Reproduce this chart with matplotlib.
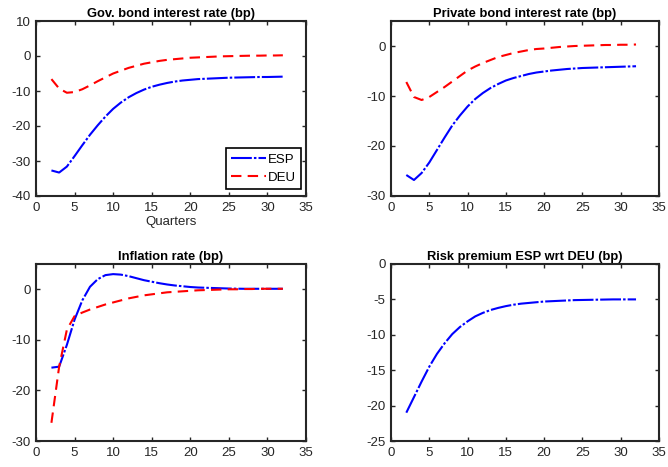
import matplotlib
matplotlib.use("Agg")
import matplotlib.pyplot as plt

plt.rcParams['font.family'] = ['Liberation Sans', 'DejaVu Sans']
plt.rcParams['font.size'] = 9
plt.rcParams['axes.unicode_minus'] = False

quarters = list(range(2, 33))

gov_esp = [-32.7, -33.3, -31.6, -28.6, -25.5, -22.5, -19.8, -17.3, -15.1, -13.3, -11.8,
           -10.6, -9.6, -8.8, -8.2, -7.7, -7.3, -7.0, -6.8, -6.6, -6.5, -6.4, -6.3, -6.2,
           -6.15, -6.1, -6.05, -6.0, -6.0, -5.95, -5.9]
gov_deu = [-6.6, -9.3, -10.5, -10.3, -9.5, -8.4, -7.2, -6.1, -5.0, -4.2, -3.4, -2.8, -2.2,
           -1.8, -1.4, -1.1, -0.9, -0.7, -0.5, -0.4, -0.3, -0.2, -0.1, -0.05, 0.0, 0.05,
           0.1, 0.1, 0.15, 0.15, 0.2]

priv_esp = [-25.8, -26.8, -25.4, -23.3, -20.8, -18.3, -15.9, -13.9, -12.1, -10.6, -9.4,
            -8.4, -7.6, -6.9, -6.4, -6.0, -5.6, -5.3, -5.1, -4.9, -4.75, -4.6, -4.5, -4.4,
            -4.35, -4.3, -4.25, -4.2, -4.15, -4.1, -4.05]
priv_deu = [-7.2, -10.2, -10.8, -10.2, -9.2, -8.2, -7.1, -6.0, -4.9, -4.1, -3.4, -2.8,
            -2.2, -1.8, -1.4, -1.1, -0.8, -0.6, -0.5, -0.35, -0.2, -0.1, 0.0, 0.05, 0.1,
            0.15, 0.2, 0.2, 0.25, 0.25, 0.3]

infl_esp = [-15.5, -15.3, -11.0, -6.0, -2.2, 0.5, 2.0, 2.8, 3.0, 2.9, 2.6, 2.2, 1.8, 1.5,
            1.2, 0.95, 0.75, 0.6, 0.45, 0.35, 0.3, 0.25, 0.2, 0.15, 0.12, 0.1, 0.1, 0.1,
            0.1, 0.1, 0.1]
infl_deu = [-26.4, -15.3, -8.0, -5.3, -4.6, -4.0, -3.5, -3.0, -2.6, -2.2, -1.8, -1.5,
            -1.2, -1.0, -0.8, -0.6, -0.5, -0.4, -0.3, -0.2, -0.15, -0.1, -0.05, 0.0, 0.0,
            0.05, 0.05, 0.1, 0.1, 0.1, 0.1]

risk_esp = [-21.0, -18.8, -16.6, -14.5, -12.7, -11.2, -9.9, -8.9, -8.1, -7.4, -6.9, -6.5,
            -6.2, -5.95, -5.75, -5.6, -5.5, -5.4, -5.3, -5.25, -5.2, -5.15, -5.1, -5.08,
            -5.06, -5.04, -5.02, -5.0, -5.0, -5.0, -5.0]

esp_style = dict(color='#0000ff', linestyle=(0, (10, 1, 1.2, 1)), linewidth=1.5)
deu_style = dict(color='#ff0000', linestyle=(0, (5, 3)), linewidth=1.5)

fig = plt.figure(figsize=(6.68, 4.67), dpi=100)

# axes boxes in pixel positions of the reference
W, H = 668, 467
boxes = [(36, 21, 306, 196), (391, 21, 659, 196), (36, 264, 306, 441), (391, 264, 659, 441)]
axes = [fig.add_axes([l / W, 1 - b / H, (r - l) / W, (b - t) / H]) for l, t, r, b in boxes]

titles = ['Gov. bond interest rate (bp)', 'Private bond interest rate (bp)',
          'Inflation rate (bp)', 'Risk premium ESP wrt DEU (bp)']
ylims = [(-40, 10), (-30, 5), (-30, 5), (-25, 0)]
yticks = [range(-40, 11, 10), range(-30, 1, 10), range(-30, 1, 10), range(-25, 1, 5)]

axes[0].plot(quarters, gov_esp, label='ESP', **esp_style)
axes[0].plot(quarters, gov_deu, label='DEU', **deu_style)
axes[1].plot(quarters, priv_esp, **esp_style)
axes[1].plot(quarters, priv_deu, **deu_style)
axes[2].plot(quarters, infl_esp, **esp_style)
axes[2].plot(quarters, infl_deu, **deu_style)
axes[3].plot(quarters, risk_esp, **esp_style)

for ax, title, yl, yt in zip(axes, titles, ylims, yticks):
    ax.set_xlim(0, 35)
    ax.set_ylim(*yl)
    ax.set_xticks(range(0, 36, 5))
    ax.set_yticks(list(yt))
    ax.set_title(title, fontweight='bold', fontsize=9.3, pad=3, color='black')
    ax.tick_params(direction='in', top=True, right=True, length=3, width=1,
                   colors='#262626', labelsize=9.5, pad=4)
    for sp in ax.spines.values():
        sp.set_linewidth(1.5)
        sp.set_color('#262626')

axes[0].set_xlabel('Quarters', fontsize=9.5, color='#262626', labelpad=2)
leg = axes[0].legend(loc='lower right', bbox_to_anchor=(301 / W, 1 - 189 / H),
                     bbox_transform=fig.transFigure, borderaxespad=0,
                     fancybox=False, edgecolor='black', fontsize=9.5,
                     handlelength=2.6, handletextpad=0.15, borderpad=0.4,
                     labelspacing=0.45, framealpha=1)
leg.get_frame().set_linewidth(1.2)

fig.savefig('out.png', dpi=100)
